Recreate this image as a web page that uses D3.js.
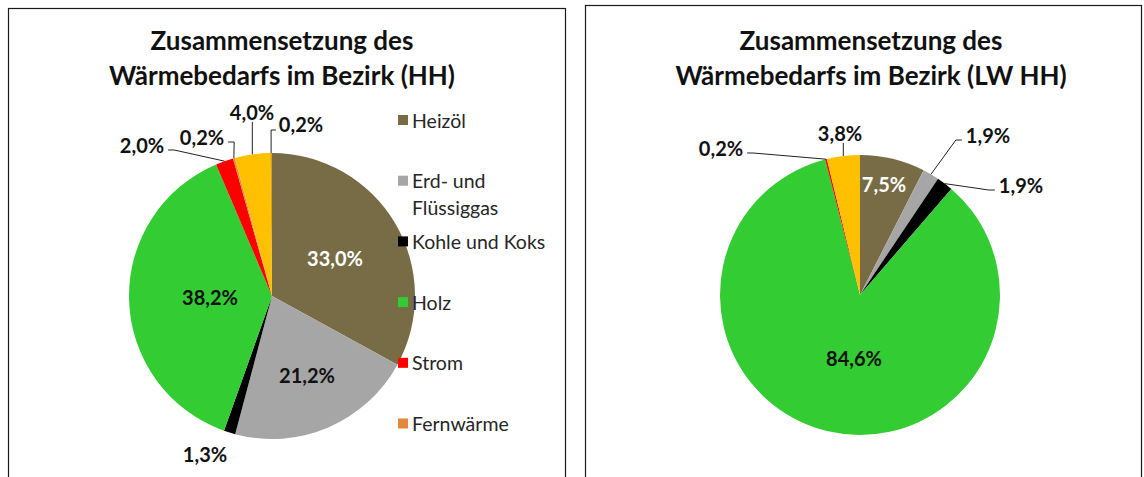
<!DOCTYPE html>
<html>
<head>
<meta charset="utf-8">
<script src="https://cdnjs.cloudflare.com/ajax/libs/d3/7.8.5/d3.min.js"></script>
<style>
	body { margin: 0; background: #fff; }
	svg { display: block; }
	text { font-family: Lato, "Open Sans", sans-serif; }
</style>
</head>
<body>
<svg id="chart" width="1144" height="477"></svg>
<script>
// Kategorien (Reihenfolge wie im Kreis, im Uhrzeigersinn ab 12 Uhr)
const categories = ["Heizöl", "Erd- und Flüssiggas", "Kohle und Koks", "Holz", "Strom", "Fernwärme", "Solarthermie", "Sonstige"];
const legendLabels = [["Heizöl"], ["Erd- und", "Flüssiggas"], ["Kohle und Koks"], ["Holz"], ["Strom"], ["Fernwärme"]];

// Anteile in %
const valuesHH = [33.0, 21.2, 1.3, 38.2, 2.0, 0.2, 4.0, 0.2];
const valuesLW = [7.5, 1.9, 1.9, 84.6, 0.2, 0.0, 3.8, 0.0];

const titlesHH = ["Zusammensetzung des", "Wärmebedarfs im Bezirk (HH)"];
const titlesLW = ["Zusammensetzung des", "Wärmebedarfs im Bezirk (LW HH)"];

const colors = ["#776c45", "#a6a6a6", "#000000", "#33cc33", "#ff0000", "#e2883c", "#ffc000", "#d9a400"];

const svg = d3.select("#chart");
const fmt = v => d3.format(".1f")(v).replace(".", ",") + "%";

// label placement (offset from pie centre), separate from the data
const layoutHH = {
	cx: 272, cy: 296, r: 143,
	labels: {
		0: {dx: 63, dy: -38, fill: "#fff"},
		1: {dx: 35, dy: 79},
		2: {dx: -67, dy: 158},
		3: {dx: -62, dy: 1},
		4: {dx: -130, dy: -151, line: true},
		5: {dx: -70, dy: -159, line: true},
		6: {dx: -20, dy: -184, line: "v"},
		7: {dx: 29, dy: -172, line: "down"}
	}
};
const layoutLW = {
	cx: 860, cy: 295, r: 140,
	labels: {
		0: {dx: 24, dy: -111, fill: "#fff"},
		1: {dx: 128, dy: -160, line: true},
		2: {dx: 161, dy: -110, line: true},
		3: {dx: -6, dy: 63},
		4: {dx: -139, dy: -147, line: true},
		6: {dx: -20, dy: -162, line: "v"}
	}
};

function panel (x, y, w, h) {
	svg.append("rect")
		.attr("x", x + 0.5).attr("y", y + 0.5)
		.attr("width", w).attr("height", h)
		.attr("fill", "#fff")
		.attr("stroke", "#1a1a1a")
		.attr("stroke-width", 1.2);
}

function title (lines, cx) {
	svg.append("text")
		.attr("text-anchor", "middle")
		.attr("font-size", 26)
		.attr("font-weight", "bold")
		.attr("fill", "#111")
		.selectAll("tspan")
		.data(lines)
		.join("tspan")
		.attr("x", cx)
		.attr("y", (d, i) => 50 + i * 35)
		.text(d => d);
}

function drawPie (values, layout) {
	const pie = d3.pie().sort(null).value(d => d.v);
	const arcs = pie(values.map((v, i) => ({v: v, i: i})));
	const arc = d3.arc().innerRadius(0).outerRadius(layout.r);

	const g = svg.append("g").attr("transform", `translate(${layout.cx},${layout.cy})`);

	g.selectAll("path")
		.data(arcs.filter(d => d.data.v > 0))
		.join("path")
		.attr("d", arc)
		.attr("fill", d => colors[d.data.i]);

	arcs.forEach(function (d) {
		const lab = layout.labels[d.data.i];
		if (!lab) return;

		const t = g.append("text")
			.attr("x", lab.dx).attr("y", lab.dy)
			.attr("text-anchor", "middle")
			.attr("dominant-baseline", "central")
			.attr("font-size", 20)
			.attr("font-weight", "bold")
			.attr("fill", lab.fill || "#111")
			.text(fmt(d.data.v));

		if (!lab.line) return;

		const w = t.node().getComputedTextLength();
		const mid = (d.startAngle + d.endAngle) / 2;
		const px = Math.sin(mid) * layout.r,
			py = -Math.cos(mid) * layout.r;
		let pts;

		if (lab.line === "v") {
			pts = [[px, lab.dy + 10], [px, py]];
		} else if (lab.line === "down") {
			const sx = lab.dx - w / 2 - 3;
			pts = [[sx, lab.dy + 6], [px, lab.dy + 6], [px, py]];
		} else if (px > lab.dx) {
			const sx = lab.dx + w / 2 + 4;
			pts = [[sx, lab.dy + 5], [sx + 6, lab.dy + 5], [px, py]];
		} else {
			const sx = lab.dx - w / 2 - 4;
			pts = [[sx, lab.dy + 5], [sx - 6, lab.dy + 5], [px, py]];
		}

		g.append("path")
			.attr("d", d3.line()(pts))
			.attr("fill", "none")
			.attr("stroke", "#222")
			.attr("stroke-width", 1);
	});
}

function legend (x, y0) {
	const g = svg.append("g");
	legendLabels.forEach(function (lines, i) {
		const y = y0 + i * 60.7;
		g.append("rect")
			.attr("x", x).attr("y", y - 5)
			.attr("width", 10).attr("height", 10)
			.attr("fill", colors[i]);
		g.append("text")
			.attr("font-size", 19.5)
			.attr("fill", "#262626")
			.selectAll("tspan")
			.data(lines)
			.join("tspan")
			.attr("x", x + 14)
			.attr("y", (d, j) => y + j * 27)
			.attr("dominant-baseline", "central")
			.text(d => d);
	});
}

panel(8, 8, 557, 490);
panel(585, 5, 556, 493);

title(titlesHH, 282);
title(titlesLW, 871);

drawPie(valuesHH, layoutHH);
drawPie(valuesLW, layoutLW);

legend(398, 120);
</script>
</body>
</html>
